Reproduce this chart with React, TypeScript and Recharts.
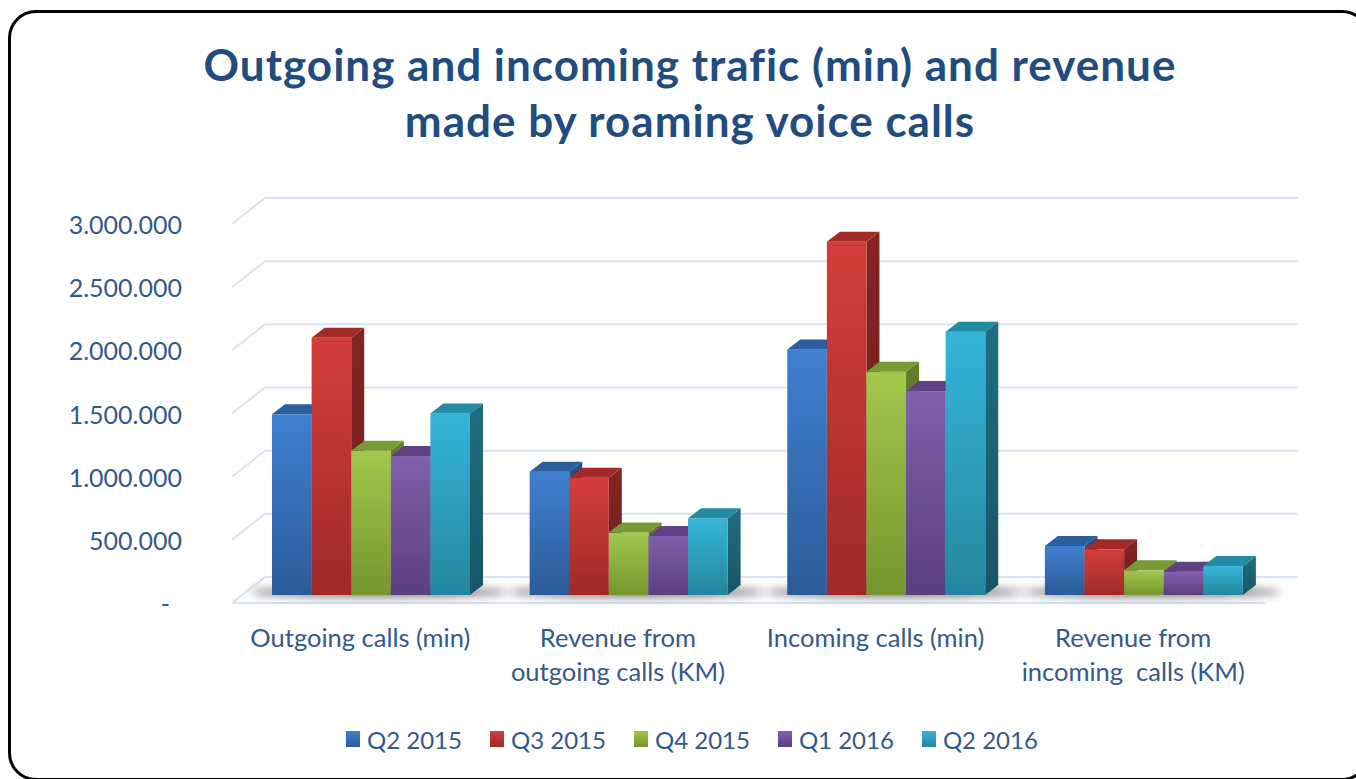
import React from 'react';
import { BarChart, Bar, XAxis, YAxis, CartesianGrid, Legend } from 'recharts';

// Categories and quarterly values
const categories = [
  'Outgoing calls (min)',
  'Revenue from\noutgoing calls (KM)',
  'Incoming calls (min)',
  'Revenue from\nincoming  calls (KM)',
];
const seriesNames = ['Q2 2015', 'Q3 2015', 'Q4 2015', 'Q1 2016', 'Q2 2016'];
const q2_2015 = [1430000, 976000, 1944000, 388000];
const q3_2015 = [2036000, 929000, 2796000, 362000];
const q4_2015 = [1142000, 494000, 1767000, 195000];
const q1_2016 = [1100000, 467000, 1614000, 185000];
const q2_2016 = [1437000, 607000, 2084000, 229000];
const yTicks = [0, 500000, 1000000, 1500000, 2000000, 2500000, 3000000];

const seriesValues = [q2_2015, q3_2015, q4_2015, q1_2016, q2_2016];

const data = categories.map((name, i) => {
  const row: any = { name };
  seriesValues.forEach((vals, s) => {
    row[`s${s}`] = vals[i];
  });
  return row;
});

// front gradient (top, bottom), top face, side face (top, bottom)
const COLORS = [
  { top: '#3f80d0', bottom: '#2c5b98', cap: '#2b5e9c', sideTop: '#26507f', sideBottom: '#1f4169' },
  { top: '#d33e3a', bottom: '#9e2a29', cap: '#a22b2a', sideTop: '#832523', sideBottom: '#6c1e1d' },
  { top: '#a2c84c', bottom: '#75952f', cap: '#779a34', sideTop: '#628029', sideBottom: '#4f6a20' },
  { top: '#8060ab', bottom: '#5c3f7e', cap: '#5f4184', sideTop: '#4e366c', sideBottom: '#3f2b58' },
  { top: '#36b5d9', bottom: '#24869e', cap: '#238ba3', sideTop: '#1f6f82', sideBottom: '#195565' },
];

const TEXT_COLOR = '#34598a';
const FONT = 'Lato, "Open Sans", sans-serif';
const BAR_DX = 13;
const BAR_DY = -10;

const formatTick = (v: number) =>
  v === 0 ? '-' : String(v).replace(/\B(?=(\d{3})+(?!\d))/g, '.');

// back wall lines with a slanted piece from the front edge
const gridLine = (p: any) => {
  const y0 = p.y1;
  const left = p.x1 - 10;
  const backLeft = left + 33;
  const isFloor = Math.abs(y0 - (p.y + p.height)) < 1;
  return (
    <g key={p.key}>
      <line x1={left} y1={y0 + 8} x2={backLeft} y2={y0 - 18} stroke="#d7e2f3" strokeWidth={2} />
      <line x1={backLeft} y1={y0 - 18} x2={p.x2 + 25.5} y2={y0 - 18} stroke="#d7e2f3" strokeWidth={2} />
      {isFloor && (
        <line x1={left} y1={y0 + 8} x2={p.x2 - 7.5} y2={y0 + 8} stroke="#d7e2f3" strokeWidth={2} />
      )}
    </g>
  );
};

const makeShape = (si: number) => (props: any) => {
  const { x, y, width: w, height: h } = props;
  if (w == null || h == null) return null;
  const c = COLORS[si];
  return (
    <g>
      <defs>
        <linearGradient id={`front-${si}`} x1="0" y1="0" x2="0" y2="1">
          <stop offset="0%" stopColor={c.top} />
          <stop offset="100%" stopColor={c.bottom} />
        </linearGradient>
        <linearGradient id={`side-${si}`} x1="0" y1="0" x2="0" y2="1">
          <stop offset="0%" stopColor={c.sideTop} />
          <stop offset="100%" stopColor={c.sideBottom} />
        </linearGradient>
        <filter id="barShadow" x="-50%" y="-200%" width="200%" height="500%">
          <feGaussianBlur stdDeviation="5" />
        </filter>
      </defs>
      {si === 0 && (
        <ellipse
          cx={x + w * 2.5 + 8}
          cy={y + h - 3}
          rx={w * 2.5 + 30}
          ry={5}
          fill="#000"
          opacity={0.55}
          filter="url(#barShadow)"
        />
      )}
      <polygon
        points={`${x + w},${y} ${x + w + BAR_DX},${y + BAR_DY} ${x + w + BAR_DX},${y + h + BAR_DY} ${x + w},${y + h}`}
        fill={`url(#side-${si})`}
      />
      <rect x={x} y={y} width={w} height={h} fill={`url(#front-${si})`} />
      <polygon
        points={`${x},${y} ${x + w},${y} ${x + w + BAR_DX},${y + BAR_DY} ${x + BAR_DX},${y + BAR_DY}`}
        fill={c.cap}
      />
    </g>
  );
};

const YTick = (props: any) => {
  const { x, y, payload } = props;
  const isZero = payload.value === 0;
  return (
    <text
      x={isZero ? x - 12 : x}
      y={y + 8}
      textAnchor="end"
      dominantBaseline="central"
      fill={TEXT_COLOR}
      fontSize={25}
      fontFamily={FONT}
    >
      {formatTick(payload.value)}
    </text>
  );
};

const XTick = (props: any) => {
  const { x, y, payload } = props;
  const lines = String(payload.value).split('\n');
  return (
    <text
      x={x - 10.5}
      y={y}
      textAnchor="middle"
      fill={TEXT_COLOR}
      fontSize={25.5}
      fontFamily={FONT}
      style={{ whiteSpace: 'pre' }}
    >
      {lines.map((line, i) => (
        <tspan key={i} x={x - 10.5} y={y + 50 + i * 34}>
          {line}
        </tspan>
      ))}
    </text>
  );
};

const renderLegend = () => (
  <div
    style={{
      position: 'relative',
      top: -16,
      display: 'flex',
      alignItems: 'center',
      height: 48,
      paddingLeft: 346,
      fontFamily: FONT,
      fontSize: 24,
      color: TEXT_COLOR,
    }}
  >
    {seriesNames.map((name, i) => (
      <div key={name} style={{ display: 'flex', alignItems: 'center', marginRight: 28 }}>
        <span
          style={{
            display: 'inline-block',
            width: 14,
            height: 16,
            marginRight: 7,
            background: `linear-gradient(${COLORS[i].top}, ${COLORS[i].bottom})`,
          }}
        />
        <span style={{ whiteSpace: 'nowrap' }}>{name}</span>
      </div>
    ))}
  </div>
);

const App: React.FC = () => {
  return (
    <div
      style={{
        position: 'absolute',
        left: 0,
        top: 0,
        width: 1356,
        height: 779,
        overflow: 'hidden',
        background: '#fff',
      }}
    >
      <div
        style={{
          position: 'absolute',
          left: 8,
          top: 10,
          width: 1362,
          height: 771,
          border: '3px solid #000',
          borderRadius: 28,
          boxSizing: 'border-box',
        }}
      />
      <div
        style={{
          position: 'absolute',
          left: 0,
          top: 36,
          width: 1380,
          textAlign: 'center',
          fontFamily: FONT,
          fontWeight: 700,
          fontSize: 44,
          letterSpacing: 1,
          lineHeight: '56px',
          color: '#224b80',
        }}
      >
        Outgoing and incoming trafic (min) and revenue
        <br />
        made by roaming voice calls
      </div>
      <div style={{ position: 'absolute', left: 0, top: 0 }}>
        <BarChart
          width={1356}
          height={779}
          data={data}
          margin={{ top: 216, right: 83.5, left: 0, bottom: 0 }}
          barGap={0}
          barSize={39.6}
        >
          <CartesianGrid vertical={false} horizontal={gridLine} />
          <XAxis
            dataKey="name"
            axisLine={false}
            tickLine={false}
            tickSize={0}
            height={136}
            interval={0}
            tick={<XTick />}
          />
          <YAxis
            domain={[0, 3000000]}
            ticks={yTicks}
            axisLine={false}
            tickLine={false}
            tickSize={0}
            tickMargin={60}
            width={242}
            tick={<YTick />}
          />
          <Legend
            verticalAlign="bottom"
            height={48}
            wrapperStyle={{ left: 0, width: 1356 }}
            content={renderLegend}
          />
          {seriesNames.map((name, si) => (
            <Bar
              key={name}
              dataKey={`s${si}`}
              name={name}
              fill={COLORS[si].top}
              shape={makeShape(si)}
              isAnimationActive={false}
            />
          ))}
        </BarChart>
      </div>
    </div>
  );
};

export default App;
